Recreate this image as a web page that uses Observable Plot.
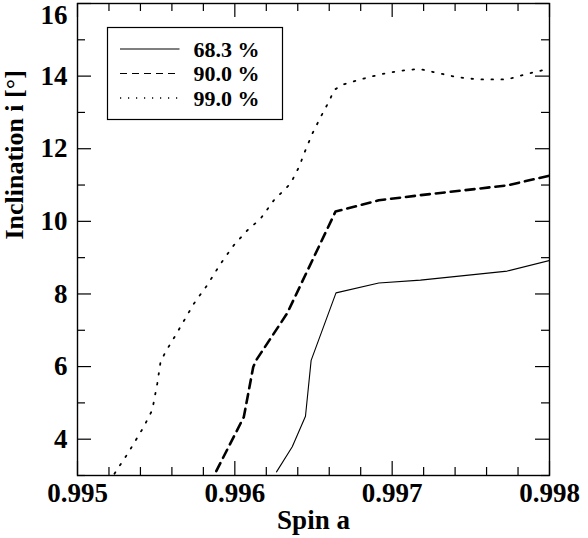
<!DOCTYPE html>
<html>
<head>
<meta charset="utf-8">
<script src="https://cdn.jsdelivr.net/npm/d3@7"></script>
<script src="https://cdn.jsdelivr.net/npm/@observablehq/plot@0.6"></script>
<style>
  body { margin: 0; background: #fff; }
  #chart { width: 588px; height: 538px; }
</style>
</head>
<body>
<div id="chart"></div>
<script>
// Confidence contours in the spin / inclination plane
const spin683 = [0.996265, 0.996365, 0.996449, 0.996485, 0.996643, 0.996915, 0.997180, 0.997731, 0.998];
const incl683 = [3.10, 3.79, 4.63, 6.17, 8.03, 8.30, 8.38, 8.63, 8.92];

const spin900 = [0.995882, 0.996057, 0.996117, 0.996138, 0.996333, 0.996640, 0.996915, 0.997180, 0.997731, 0.998];
const incl900 = [3.12, 4.61, 5.99, 6.19, 7.47, 10.27, 10.58, 10.72, 10.99, 11.26];

const spin990 = [0.995235, 0.995326, 0.995421, 0.995475, 0.995507, 0.995528, 0.995559, 0.995623, 0.995739,
                 0.995824, 0.995909, 0.995993, 0.996079, 0.996163, 0.996248, 0.996354, 0.996407, 0.996449,
                 0.996492, 0.996545, 0.996604, 0.996629, 0.996682, 0.996799, 0.996926, 0.997042, 0.997169,
                 0.997286, 0.997413, 0.997540, 0.997731, 0.997848, 0.997975, 0.998];
const incl990 = [3.05, 3.65, 4.34, 4.80, 5.53, 6.13, 6.40, 6.86, 7.73,
                 8.24, 8.83, 9.34, 9.75, 10.07, 10.58, 11.04, 11.49, 11.96,
                 12.41, 12.87, 13.35, 13.61, 13.76, 13.91, 14.05, 14.14, 14.20,
                 14.09, 13.97, 13.91, 13.91, 14.05, 14.18, 14.21];

const levelLabels = ["68.3 %", "90.0 %", "99.0 %"];

// Tick positions
const xMajor = [0.995, 0.996, 0.997, 0.998];
const xMinor = [0.9952, 0.9954, 0.9956, 0.9958, 0.9962, 0.9964, 0.9966, 0.9968,
                0.9972, 0.9974, 0.9976, 0.9978];
const yMajor = [4, 6, 8, 10, 12, 14, 16];
const yMinor = [3, 5, 7, 9, 11, 13, 15];

const W = 588, H = 538;
const mL = 77, mR = 39, mT = 3, mB = 63;
const fw = W - mL - mR, fh = H - mT - mB;
const majorLen = 14, minorLen = 8;
const font = "Liberation Serif";
const fs = 27;

const toRows = (xs, ys) => xs.map((x, i) => ({x, y: ys[i]}));
const lineStyles = [
  {strokeWidth: 1.1},
  {strokeWidth: 2.6, strokeDasharray: "9 6"},
  {strokeWidth: 1.8, strokeDasharray: "1.6 8.4"}
];
const series = [toRows(spin683, incl683), toRows(spin900, incl900), toRows(spin990, incl990)];

const tickStyle = {stroke: "#000", strokeWidth: 1.2};
const yTop = yMajor[yMajor.length - 1];

const plot = Plot.plot({
  width: W, height: H,
  marginLeft: mL, marginRight: mR, marginTop: mT, marginBottom: mB,
  style: {fontFamily: font, fontWeight: "bold", fontSize: fs + "px", background: "#fff", color: "#000"},
  x: {domain: [0.995, 0.998]},
  y: {domain: [3, 16]},
  marks: [
    ...series.map((rows, i) => Plot.line(rows, {x: "x", y: "y", stroke: "#000", clip: true, ...lineStyles[i]})),
    // inward ticks on all four sides
    Plot.tickX(xMajor, {x: d => d, insetTop: fh - majorLen, ...tickStyle}),
    Plot.tickX(xMinor, {x: d => d, insetTop: fh - minorLen, ...tickStyle}),
    Plot.tickX(xMajor, {x: d => d, insetBottom: fh - majorLen, ...tickStyle}),
    Plot.tickX(xMinor, {x: d => d, insetBottom: fh - minorLen, ...tickStyle}),
    Plot.tickY(yMajor, {y: d => d, insetRight: fw - majorLen, ...tickStyle}),
    Plot.tickY(yMinor, {y: d => d, insetRight: fw - minorLen, ...tickStyle}),
    Plot.tickY(yMajor, {y: d => d, insetLeft: fw - majorLen, ...tickStyle}),
    Plot.tickY(yMinor, {y: d => d, insetLeft: fw - minorLen, ...tickStyle}),
    Plot.axisX(xMajor, {tickSize: 0, tickPadding: 7, tickFormat: d3.format(".3f"), label: null, fontSize: fs}),
    Plot.axisY(yMajor.filter(v => v !== yTop), {tickSize: 0, tickPadding: 10, label: null, fontSize: fs}),
    // the top label sits a little lower so it stays inside the page
    Plot.axisY([yTop], {tickSize: 0, tickPadding: 10, label: null, fontSize: fs, dy: 11.5}),
    Plot.text(["Spin a"], {text: d => d, frameAnchor: "bottom", dy: 44.5, lineAnchor: "middle", fontSize: fs, fontWeight: "bold"}),
    Plot.text(["Inclination i [°]"], {text: d => d, frameAnchor: "left", dx: -63, rotate: -90, lineAnchor: "middle", fontSize: 26, fontWeight: "bold"}),
    Plot.frame({stroke: "#000", strokeWidth: 1.4})
  ]
});

// Legend box inside the plotting area
const svg = d3.select(plot);
const lg = svg.append("g").attr("transform", "translate(107.5,27.5)");
lg.append("rect").attr("width", 175).attr("height", 92)
  .attr("fill", "#fff").attr("stroke", "#000").attr("stroke-width", 1.2);
const legendStyles = [
  {w: 1.1, dash: null, cy: 21.5},
  {w: 1.2, dash: "7 5", cy: 46},
  {w: 1.3, dash: "1.2 6.8", cy: 70.5}
];
levelLabels.forEach((label, i) => {
  const {w, dash, cy} = legendStyles[i];
  const ln = lg.append("line").attr("x1", 12.5).attr("x2", 72).attr("y1", cy).attr("y2", cy)
    .attr("stroke", "#000").attr("stroke-width", w);
  if (dash) ln.attr("stroke-dasharray", dash);
  lg.append("text").attr("x", 86).attr("y", cy + 7.5)
    .attr("text-anchor", "start")
    .attr("font-family", font).attr("font-weight", "bold").attr("font-size", 22)
    .attr("fill", "#000").text(label);
});

document.getElementById("chart").append(plot);
</script>
</body>
</html>
